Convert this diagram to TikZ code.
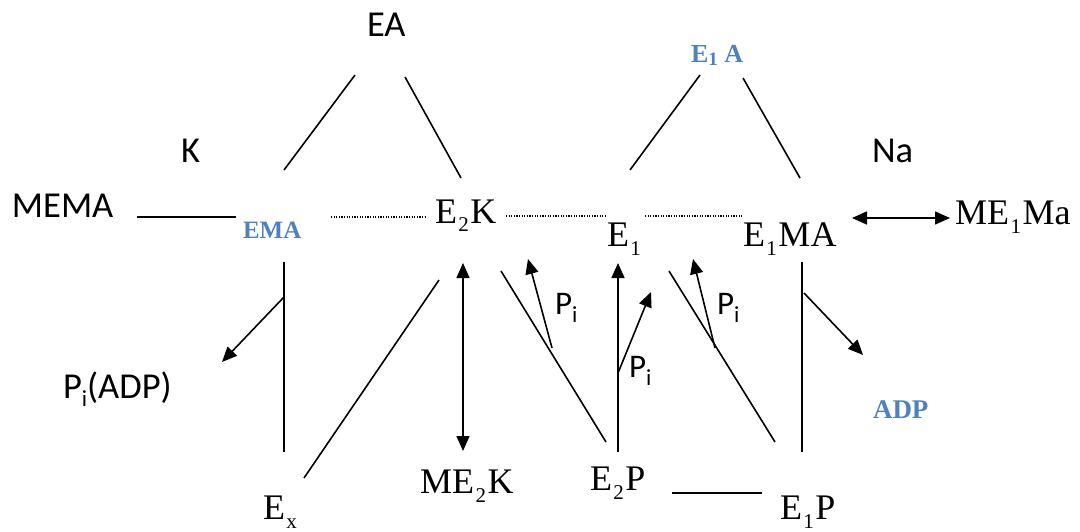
\documentclass[tikz,border=0pt]{standalone}
\usepackage{fontspec}
\setmainfont{Liberation Serif}
\newfontfamily\calib{Carlito}
\usetikzlibrary{arrows.meta}
\definecolor{officeblue}{HTML}{4F81BD}
\newcommand{\sersub}[1]{\hspace{1.5pt}\raisebox{-9pt}{\fontsize{21}{21}\selectfont #1}\hspace{1.5pt}}
\newcommand{\sanssub}[1]{\raisebox{-8pt}{\fontsize{23}{23}\selectfont #1}}
\begin{document}
\begin{tikzpicture}[x=1pt,y=-1pt,
  lbl/.style={anchor=base west,inner sep=0pt,outer sep=0pt},
  sansbig/.style={lbl,font=\calib\fontsize{36.5}{36.5}\selectfont},
  pilbl/.style={lbl,font=\calib\fontsize{33}{33}\selectfont},
  serif/.style={lbl,font=\fontsize{36}{36}\selectfont},
  bluebold/.style={lbl,font=\bfseries\fontsize{26}{26}\selectfont,text=officeblue},
  ln/.style={line width=1.6pt},
  dots/.style={line width=1.2pt,dash pattern=on 1.1pt off 1.5pt},
  tip/.style={-{Triangle[length=15pt,width=13pt]},line width=1.6pt},
  dtip/.style={{Triangle[length=15pt,width=13pt]}-{Triangle[length=15pt,width=13pt]},line width=1.6pt}
]
\useasboundingbox (0,0) rectangle (1080,532);
% labels
\node[sansbig] (EA) at (367,37) {EA};
\node[sansbig] (K) at (181,163) {K};
\node[sansbig] (Na) at (872,163) {Na};
\node[sansbig] (MEMA) at (12,218) {MEMA};
\node[bluebold,font=\bfseries\fontsize{25}{25}\selectfont] (EMA) at (243,238) {EMA};
\node[serif] (E2K) at (435,223) {E\sersub{2}K};
\node[serif] (E1) at (607,247) {E\sersub{1}};
\node[serif] (E1MA) at (743,247) {E\sersub{1}MA};
\node[serif] (ME1Ma) at (955,225) {ME\sersub{1}Ma};
\node[bluebold] (E1A) at (691,63) {E\raisebox{-3pt}{\fontsize{19}{19}\selectfont 1} A};
\node[sansbig] (PiADP) at (63,398) {P\sanssub{i}(ADP)};
\node[pilbl] (Pa) at (555,314) {P\sanssub{i}};
\node[pilbl] (Pb) at (629,377) {P\sanssub{i}};
\node[pilbl] (Pc) at (717,314) {P\sanssub{i}};
\node[bluebold,font=\bfseries\fontsize{27}{27}\selectfont] (ADP) at (873,418) {ADP};
\node[serif] (ME2K) at (420,493) {ME\sersub{2}K};
\node[serif] (E2P) at (590,490) {E\sersub{2}P};
\node[serif] (E1P) at (780,519) {E\sersub{1}P};
\node[serif] (Ex) at (263,519) {E\sersub{x}};
% end points
\coordinate (ea1) at (355,75);  \coordinate (ea2) at (284,170);
\coordinate (ea3) at (405,77);  \coordinate (ea4) at (461,178);
\coordinate (ua1) at (700,75);  \coordinate (ua2) at (630,170);
\coordinate (ua3) at (743,78);  \coordinate (ua4) at (800,178);
\coordinate (m1) at (137,217);  \coordinate (m2) at (236,217);
\coordinate (d1) at (331,217);  \coordinate (d2) at (427,217);
\coordinate (d3) at (506,216);  \coordinate (d4) at (605,216);
\coordinate (d5) at (645,216);  \coordinate (d6) at (743,216);
\coordinate (na1) at (852,218); \coordinate (na2) at (950,218);
\coordinate (v1a) at (284,262); \coordinate (v1b) at (284,452);
\coordinate (a1s) at (284,297); \coordinate (a1e) at (222,362);
\coordinate (x1) at (304,478);  \coordinate (x2) at (439,280);
\coordinate (k1) at (463,263);  \coordinate (k2) at (463,451);
\coordinate (g1a) at (501,271); \coordinate (g1b) at (606,442);
\coordinate (p1s) at (552,348); \coordinate (p1e) at (528,259);
\coordinate (v2a) at (618,452); \coordinate (v2b) at (618,263);
\coordinate (p2s) at (618,373); \coordinate (p2e) at (651,292);
\coordinate (g2a) at (669,271); \coordinate (g2b) at (775,442);
\coordinate (p3s) at (715,348); \coordinate (p3e) at (693,259);
\coordinate (v3a) at (802,262); \coordinate (v3b) at (802,452);
\coordinate (a3s) at (804,293); \coordinate (a3e) at (863,355);
\coordinate (b1) at (672,493);  \coordinate (b2) at (762,493);
% connectors
\draw[ln] (ea1) -- (ea2);
\draw[ln] (ea3) -- (ea4);
\draw[ln] (ua1) -- (ua2);
\draw[ln] (ua3) -- (ua4);
\draw[ln] (m1) -- (m2);
\draw[dots] (d1) -- (d2);
\draw[dots] (d3) -- (d4);
\draw[dots] (d5) -- (d6);
\draw[dtip] (na1) -- (na2);
\draw[ln] (v1a) -- (v1b);
\draw[tip] (a1s) -- (a1e);
\draw[ln] (x1) -- (x2);
\draw[dtip] (k1) -- (k2);
\draw[ln] (g1a) -- (g1b);
\draw[tip] (p1s) -- (p1e);
\draw[tip] (v2a) -- (v2b);
\draw[tip] (p2s) -- (p2e);
\draw[ln] (g2a) -- (g2b);
\draw[tip] (p3s) -- (p3e);
\draw[ln] (v3a) -- (v3b);
\draw[tip] (a3s) -- (a3e);
\draw[ln] (b1) -- (b2);
\end{tikzpicture}
\end{document}
